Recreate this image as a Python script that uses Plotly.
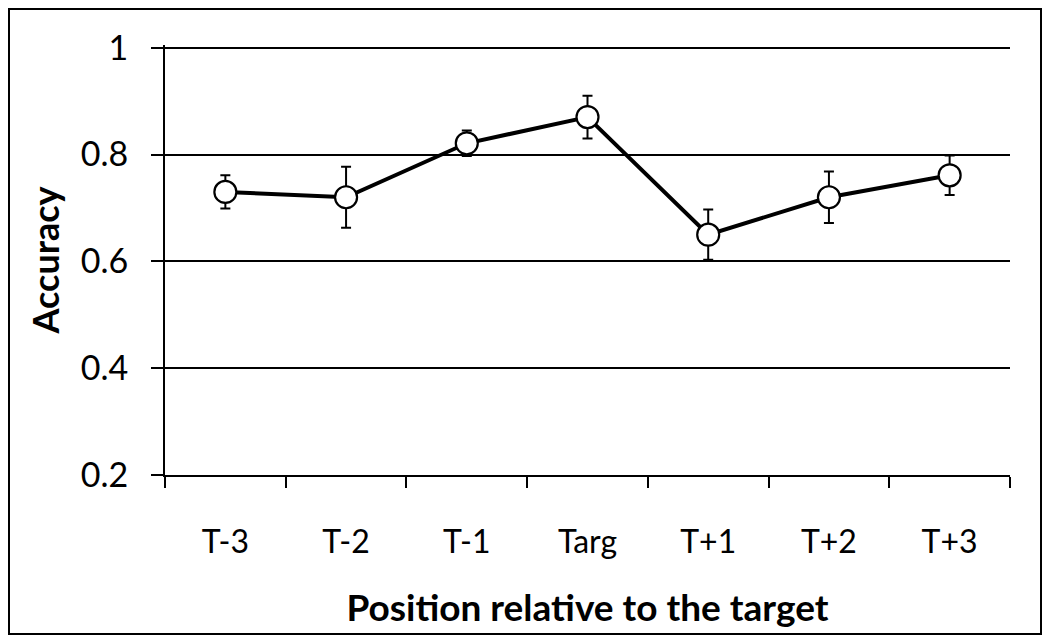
import plotly.graph_objects as go

categories = ["T-3", "T-2", "T-1", "Targ", "T+1", "T+2", "T+3"]
accuracy = [0.73, 0.72, 0.821, 0.870, 0.650, 0.720, 0.761]
err = [0.031, 0.057, 0.024, 0.040, 0.047, 0.048, 0.037]
y_ticks = [0.2, 0.4, 0.6, 0.8, 1.0]
y_ticktext = ["0.2", "0.4", "0.6", "0.8", "1"]

FONT = "Lato"

fig = go.Figure()
fig.add_trace(go.Scatter(
    x=categories, y=accuracy,
    mode="lines+markers",
    line=dict(color="black", width=4),
    marker=dict(size=22, color="white", line=dict(color="black", width=2.2)),
    error_y=dict(type="data", array=err, visible=True, color="black", thickness=2, width=5),
    showlegend=False,
    cliponaxis=False,
))

# page has an 8px body margin; figure sized to fit the viewport
W, H = 1034, 627
L, R, T, B = 157, 32, 37, 160
pw, ph = W - L - R, H - T - B

fig.update_layout(
    width=W, height=H,
    margin=dict(l=L, r=R, t=T, b=B, autoexpand=False),
    plot_bgcolor="white", paper_bgcolor="white",
    font=dict(family=FONT, color="black"),
    xaxis=dict(
        type="category",
        automargin=False,
        showgrid=False,
        showline=True, linecolor="black", linewidth=2,
        ticks="outside", tickson="boundaries", ticklen=11, tickwidth=2, tickcolor="black",
        tickfont=dict(size=32, family=FONT),
        ticklabelstandoff=38,
        title=dict(text="<b>Position relative to the target</b>", font=dict(size=37, family=FONT), standoff=36),
        range=[-0.5, 6.5],
    ),
    yaxis=dict(
        range=[0.2, 1.005],
        automargin=False,
        tickvals=y_ticks, ticktext=y_ticktext,
        showgrid=True, gridcolor="black", gridwidth=2,
        showline=True, linecolor="black", linewidth=2,
        ticks="outside", ticklen=12, tickwidth=2, tickcolor="black",
        tickfont=dict(size=34, family=FONT),
        ticklabelstandoff=16,
        zeroline=False,
        title=dict(text="<b>Accuracy</b>", font=dict(size=36, family=FONT), standoff=10),
    ),
    shapes=[dict(
        type="rect", xref="paper", yref="paper",
        x0=(1 - L) / pw, x1=(1033 - L) / pw,
        y0=(H - B - 626) / ph, y1=(H - B - 1) / ph,
        line=dict(color="black", width=2), fillcolor="rgba(0,0,0,0)",
    )],
)

fig.write_html("out.html")
